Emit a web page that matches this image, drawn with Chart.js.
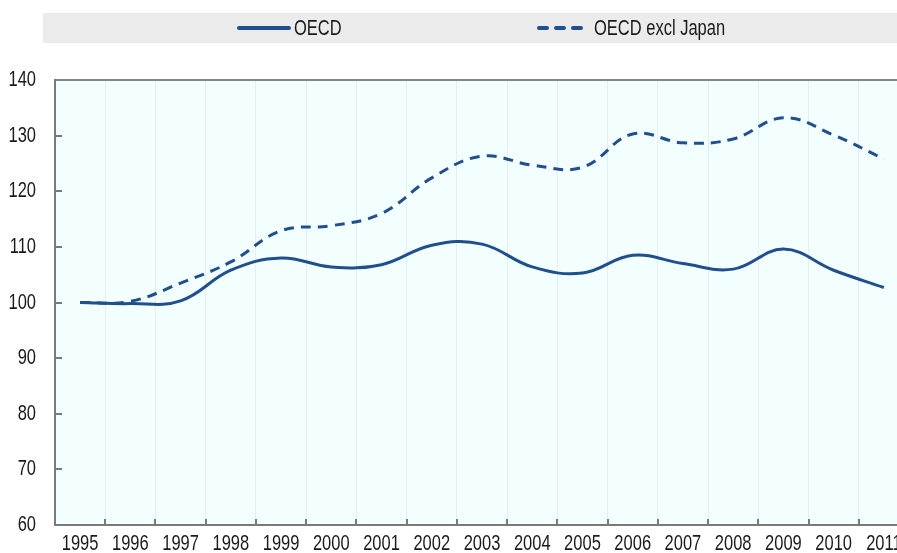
<!DOCTYPE html>
<html>
<head>
<meta charset="utf-8">
<title>OECD index</title>
<script src="https://cdn.jsdelivr.net/npm/chart.js@4/dist/chart.umd.min.js"></script>
<style>
    html, body { margin: 0; padding: 0; background: #ffffff; }
    .chart-wrap { width: 897px; height: 553px; overflow: hidden; position: relative; }
    .chart-wrap canvas { position: absolute; left: 0; top: 0; }
</style>
</head>
<body>
<div class="chart-wrap">
    <canvas id="oecdChart" width="910" height="553" style="width:910px;height:553px"></canvas>
</div>
<script>
'use strict';

// =========================================================
// DATA
// =========================================================

const years = ['1995', '1996', '1997', '1998', '1999', '2000', '2001', '2002', '2003',
    '2004', '2005', '2006', '2007', '2008', '2009', '2010', '2011'];

const oecd = [100, 99.8, 100.3, 105.8, 108, 106.4, 106.8, 110.3, 110.5,
    106.4, 105.3, 108.5, 107, 106, 109.6, 105.8, 102.7];

const oecdExclJapan = [100, 100.2, 103.5, 107.3, 112.9, 113.8, 116, 122.4, 126.3,
    124.7, 124.3, 130.3, 128.7, 129.4, 133.2, 130.1, 125.8];

const yTicks = [60, 70, 80, 90, 100, 110, 120, 130, 140];


// =========================================================
// STYLE
// =========================================================

const LINE_COLOR = '#1f4f8e';
const AXIS_COLOR = '#7a7a7a';
const TEXT_COLOR = '#1a1a1a';
const FONT = "'Liberation Sans', Arial, sans-serif";
const FONT_SIZE = 22;
// the original uses a narrow face, so squeeze the text a bit
const TEXT_SQUEEZE = 0.75;


// =========================================================
// HELPERS
// =========================================================

const drawNarrowText = (ctx, text, x, y, align) => {
    ctx.save();
    ctx.translate(x, y);
    ctx.scale(TEXT_SQUEEZE, 1);
    ctx.textAlign = align;
    ctx.fillText(text, 0, 0);
    ctx.restore();
};


// =========================================================
// PLUGINS
// =========================================================

// light cyan plot area
const plotBackground = {
    id: 'plotBackground',
    beforeDraw: (chart) => {
        const { ctx, chartArea } = chart;
        ctx.save();
        ctx.fillStyle = '#f3ffff';
        ctx.fillRect(chartArea.left, chartArea.top, chartArea.right - chartArea.left, chartArea.bottom - chartArea.top);
        ctx.restore();
    },
};

// ticks pointing into the plot + narrow tick labels
const axisDecor = {
    id: 'axisDecor',
    afterDatasetsDraw: (chart) => {
        const { ctx, chartArea, scales } = chart;
        ctx.save();
        ctx.strokeStyle = AXIS_COLOR;
        ctx.lineWidth = 2;
        ctx.fillStyle = TEXT_COLOR;
        ctx.font = `${FONT_SIZE}px ${FONT}`;

        yTicks.forEach((value) => {
            const y = Math.round(scales.y.getPixelForValue(value));

            ctx.textBaseline = 'middle';
            drawNarrowText(ctx, String(value), chartArea.left - 19, y, 'right');

            if (value === 60 || value === 140) return;
            ctx.beginPath();
            ctx.moveTo(chartArea.left, y);
            ctx.lineTo(chartArea.left + 7, y);
            ctx.stroke();
        });

        years.forEach((year, index) => {
            const x = scales.x.getPixelForValue(index);

            ctx.textBaseline = 'top';
            drawNarrowText(ctx, year, x, chartArea.bottom + 8, 'center');

            if (index === 0) return;
            const edge = Math.round((scales.x.getPixelForValue(index - 1) + x) / 2);
            ctx.beginPath();
            ctx.moveTo(edge, chartArea.bottom);
            ctx.lineTo(edge, chartArea.bottom - 6);
            ctx.stroke();
        });
        ctx.restore();
    },
};

// grey legend strip on top
const legendStrip = {
    id: 'legendStrip',
    afterDraw: (chart) => {
        const { ctx } = chart;
        const top = 13;
        const height = 30;
        const midY = top + height / 2;

        ctx.save();
        ctx.fillStyle = '#ebebeb';
        ctx.fillRect(43, top, chart.width - 43, height);

        const starts = [237, 537];

        chart.data.datasets.forEach((dataset, index) => {
            const x = starts[index];

            ctx.strokeStyle = dataset.borderColor;
            ctx.lineWidth = 4;
            ctx.lineCap = 'round';
            ctx.setLineDash(dataset.borderDash.length ? [8, 9] : []);
            ctx.beginPath();
            ctx.moveTo(x + 2, midY);
            ctx.lineTo(x + 52, midY);
            ctx.stroke();
            ctx.setLineDash([]);

            ctx.fillStyle = TEXT_COLOR;
            ctx.font = `${FONT_SIZE}px ${FONT}`;
            ctx.textBaseline = 'middle';
            drawNarrowText(ctx, dataset.label, x + 57, midY + 1, 'left');
        });
        ctx.restore();
    },
};


// =========================================================
// CHART
// =========================================================

const renderChart = () => {
    const canvas = document.querySelector('#oecdChart');

    new Chart(canvas, {
        type: 'line',
        data: {
            labels: years,
            datasets: [
                {
                    label: 'OECD',
                    data: oecd,
                    borderColor: LINE_COLOR,
                    borderWidth: 3,
                    borderDash: [],
                    tension: 0.4,
                    pointRadius: 0,
                    fill: false,
                },
                {
                    label: 'OECD excl Japan',
                    data: oecdExclJapan,
                    borderColor: LINE_COLOR,
                    borderWidth: 3,
                    borderDash: [10, 7],
                    tension: 0.4,
                    pointRadius: 0,
                    fill: false,
                },
            ],
        },
        options: {
            responsive: false,
            animation: false,
            layout: {
                padding: { top: 80, left: 0, right: 1, bottom: 0 },
            },
            plugins: {
                legend: { display: false },
                tooltip: { enabled: false },
            },
            scales: {
                x: {
                    offset: true,
                    afterFit: (scale) => { scale.height = 28; },
                    grid: {
                        offset: true,
                        drawTicks: false,
                        color: 'rgba(205, 225, 225, 0.45)',
                        lineWidth: 1,
                    },
                    border: { display: true, color: AXIS_COLOR, width: 2 },
                    ticks: { display: false, autoSkip: false },
                },
                y: {
                    min: 60,
                    max: 140,
                    afterFit: (scale) => { scale.width = 55; },
                    afterBuildTicks: (scale) => {
                        scale.ticks = yTicks.map((value) => ({ value }));
                    },
                    grid: {
                        drawTicks: false,
                        lineWidth: 2,
                        color: (context) => (context.tick && context.tick.value === 140 ? '#858585' : 'transparent'),
                    },
                    border: { display: true, color: AXIS_COLOR, width: 2 },
                    ticks: { display: false },
                },
            },
        },
        plugins: [plotBackground, axisDecor, legendStrip],
    });
};

document.addEventListener('DOMContentLoaded', renderChart);
</script>
</body>
</html>
